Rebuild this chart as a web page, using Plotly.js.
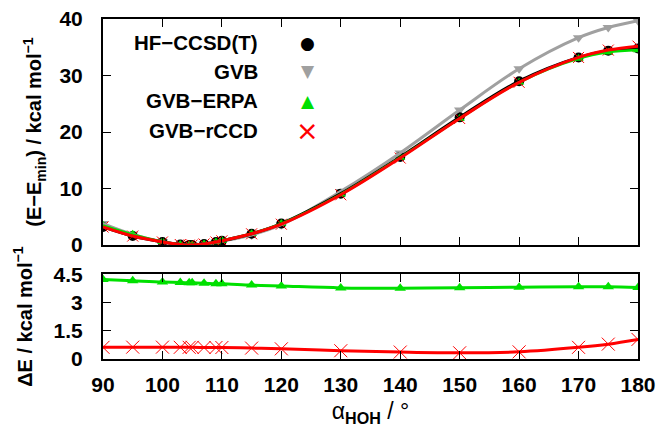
<!DOCTYPE html>
<html>
<head>
<meta charset="utf-8">
<script src="https://cdn.plot.ly/plotly-3.0.1.min.js"></script>
<style>html,body{margin:0;padding:0;background:#fff;}#chart{width:659px;height:433px;}</style>
</head>
<body>
<div id="chart"></div>
<script>
// bond angle (degrees)
const angles = [90, 95, 100, 103, 104.5, 105, 107, 109, 110, 115, 120, 130, 140, 150, 160, 170, 175, 180];
// relative energies E - Emin (kcal/mol)
const hfCcsdT = [3.2, 1.6, 0.55, 0.1, 0.0, 0.02, 0.2, 0.55, 0.75, 2.0, 3.8, 9.1, 15.6, 22.6, 29.0, 33.2, 34.4, 34.8];
const gvb     = [3.8, 1.9, 0.6, 0.1, 0.0, 0.02, 0.2, 0.5, 0.7, 1.8, 3.6, 9.5, 16.3, 23.9, 31.2, 36.7, 38.5, 39.7];
const gvbErpa = [3.5, 1.9, 0.6, 0.12, 0.0, 0.02, 0.2, 0.55, 0.8, 2.0, 3.8, 9.0, 15.5, 22.4, 28.8, 33.0, 34.1, 34.5];
const gvbRccd = [3.2, 1.6, 0.55, 0.1, 0.0, 0.02, 0.2, 0.55, 0.75, 2.0, 3.7, 8.9, 15.4, 22.4, 28.8, 33.2, 34.5, 35.2];
// energy differences dE (kcal/mol)
const dErpa = [4.23, 4.16, 4.09, 4.07, 4.05, 4.05, 4.03, 4.0, 4.0, 3.93, 3.88, 3.78, 3.76, 3.79, 3.82, 3.84, 3.84, 3.80];
const dRccd = [0.62, 0.63, 0.63, 0.62, 0.62, 0.62, 0.61, 0.61, 0.61, 0.58, 0.54, 0.44, 0.37, 0.33, 0.38, 0.62, 0.79, 1.04];
// legend labels
const legendNames = ['HF\u2212CCSD(T)', 'GVB', 'GVB\u2212ERPA', 'GVB\u2212rCCD'];
const legendGlyphs = ['\u25CF', '\u25BC', '\u25B2', '\u00D7'];
const xTicks = [90, 100, 110, 120, 130, 140, 150, 160, 170, 180];

const BLACK = '#000000', GRAY = '#a0a0a0', GREEN = '#00e000', RED = '#ff0000';
const FONT = 'Liberation Sans, Arial, sans-serif';

function line(x, y, color, width, xa, ya) {
  return {x: x, y: y, xaxis: xa, yaxis: ya, mode: 'lines', type: 'scatter',
          line: {color: color, width: width, shape: 'spline', smoothing: 1}, showlegend: false, hoverinfo: 'skip'};
}
function pts(x, y, color, symbol, size, xa, ya, name, lw) {
  return {x: x, y: y, xaxis: xa, yaxis: ya, mode: 'markers', type: 'scatter', name: name, showlegend: false,
          marker: {color: color, symbol: symbol, size: size, line: {color: color, width: lw || 0}}};
}

const data = [
  pts(angles, gvb, GRAY, 'triangle-down', 10, 'x2', 'y', legendNames[1]),
  pts(angles, hfCcsdT, BLACK, 'circle', 10, 'x2', 'y', legendNames[0]),
  pts(angles, gvbErpa, GREEN, 'triangle-up', 9, 'x2', 'y', legendNames[2]),
  pts(angles, gvbRccd, RED, 'x-thin', 11, 'x2', 'y', legendNames[3], 1),
  line(angles, gvb, GRAY, 3, 'x2', 'y'),
  line(angles, hfCcsdT, BLACK, 3, 'x2', 'y'),
  line(angles, gvbErpa, GREEN, 2.5, 'x2', 'y'),
  line(angles, gvbRccd, RED, 3, 'x2', 'y'),
  pts(angles, dErpa, GREEN, 'triangle-up', 10, 'x', 'y2', legendNames[2]),
  pts(angles, dRccd, RED, 'x-thin', 13, 'x', 'y2', legendNames[3], 1),
  line(angles, dErpa, GREEN, 3, 'x', 'y2'),
  line(angles, dRccd, RED, 3, 'x', 'y2')
];

const axisCommon = {
  showgrid: false, zeroline: false, showline: true, linecolor: BLACK, linewidth: 2,
  mirror: 'ticks', ticks: 'inside', ticklen: 8, tickwidth: 1, tickcolor: BLACK,
  tickfont: {family: FONT, size: 21, color: BLACK, weight: 'bold'}
};

const pColors = [BLACK, GRAY, GREEN, RED];
const annotations = [];
const rowY = [0.930, 0.846, 0.760, 0.672];
for (let i = 0; i < legendNames.length; i++) {
  annotations.push({xref: 'paper', yref: 'paper', x: 0.2935, y: rowY[i], xanchor: 'right', yanchor: 'middle',
    text: '<b>' + legendNames[i] + '</b>', showarrow: false, font: {family: FONT, size: 20.5, color: BLACK}});
  annotations.push({xref: 'paper', yref: 'paper', x: 0.383, y: rowY[i], xanchor: 'center', yanchor: 'middle',
    text: legendGlyphs[i], showarrow: false,
    font: {family: 'DejaVu Sans', size: i === 3 ? 27 : 17, color: pColors[i]}});
}

const layout = {
  width: 659, height: 433,
  margin: {l: 103, r: 21, t: 19, b: 74},
  paper_bgcolor: '#fff', plot_bgcolor: '#fff',
  showlegend: false,
  font: {family: FONT, color: BLACK},
  xaxis: Object.assign({}, axisCommon, {
    range: [90, 180], anchor: 'y2', tickvals: xTicks, ticklabelstandoff: 6,
    title: {text: '\u03B1<sub><b>HOH</b></sub> / \u00B0', font: {family: FONT, size: 23, color: BLACK}, standoff: 8}
  }),
  xaxis2: Object.assign({}, axisCommon, {
    range: [90, 180], anchor: 'y', matches: 'x', tickvals: xTicks, showticklabels: false
  }),
  yaxis: Object.assign({}, axisCommon, {
    domain: [0.335, 1], range: [0, 40], tickvals: [0, 10, 20, 30, 40], anchor: 'x2', ticklabelstandoff: 14,
    title: {text: '<b>(E\u2212E<sub>min</sub>) / kcal mol<sup>\u22121</sup></b>', font: {family: FONT, size: 20, color: BLACK}, standoff: 12}
  }),
  yaxis2: Object.assign({}, axisCommon, {
    domain: [0, 0.249], range: [0, 4.5], tickvals: [0, 1.5, 3, 4.5], ticktext: ['0', '1.5', '3', '4.5'], anchor: 'x', ticklabelstandoff: 14,
    title: {text: '<b>\u0394E / kcal mol<sup>\u22121</sup></b>', font: {family: FONT, size: 20, color: BLACK}, standoff: 16}
  }),
  annotations: annotations
};

Plotly.newPlot('chart', data, layout, {displayModeBar: false, staticPlot: true});
</script>
</body>
</html>
